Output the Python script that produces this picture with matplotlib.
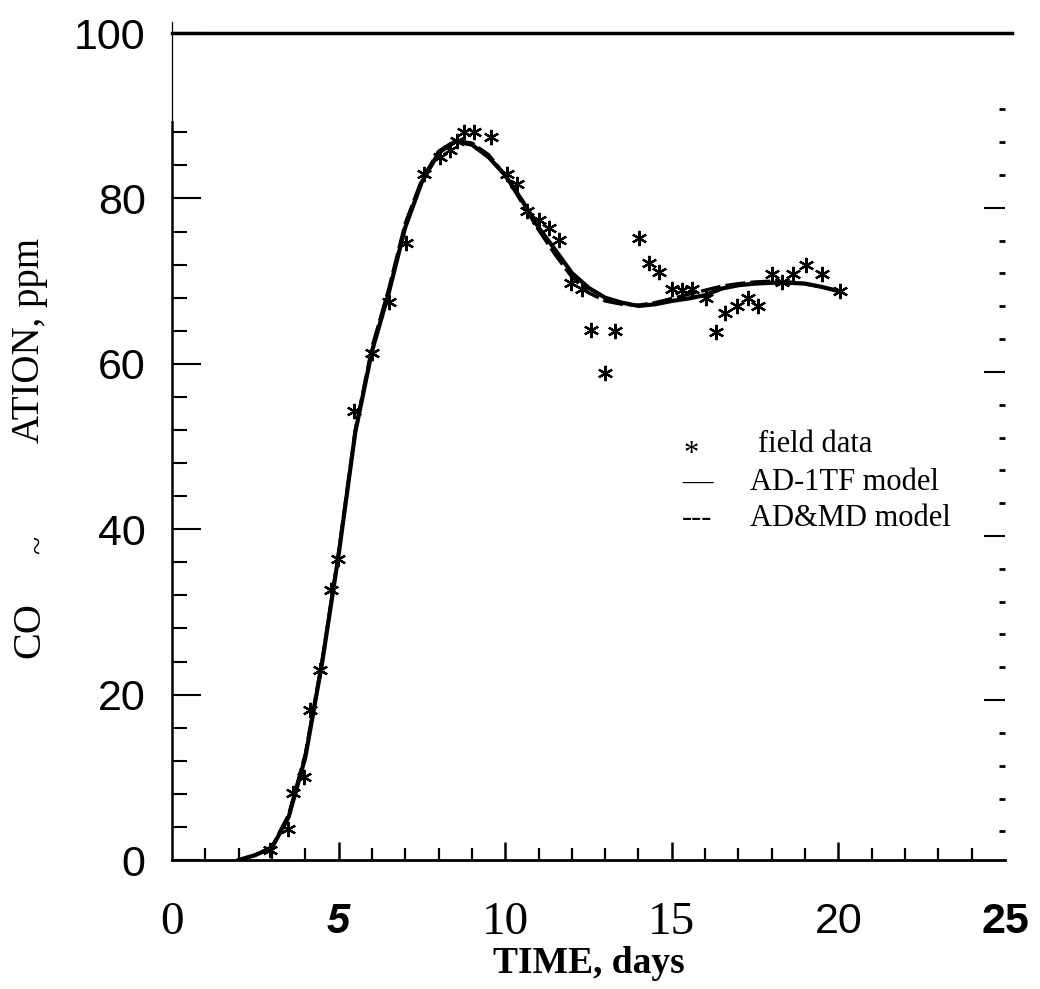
import matplotlib.pyplot as plt

# field data
days_field = [2.95, 3.49, 3.64, 3.95, 4.15, 4.45, 4.77, 4.97, 5.46, 6.01,
              6.51, 7.02, 7.55, 8.03, 8.35, 8.55, 8.77, 9.07, 9.56, 10.04,
              10.34, 10.64, 11.01, 11.31, 11.63, 11.98, 12.31, 12.58, 13.0, 13.29,
              14.02, 14.32, 14.62, 15.01, 15.31, 15.61, 16.03, 16.33, 16.61, 16.95,
              17.3, 17.6, 18.02, 18.32, 18.63, 19.02, 19.52, 20.04]
conc_field = [1.2, 3.8, 8.1, 10.1, 18.2, 23.0, 32.7, 36.4, 54.3, 61.3,
              67.5, 74.6, 82.9, 85.0, 85.9, 87.0, 88.0, 88.0, 87.4, 83.0,
              81.7, 78.5, 77.4, 76.4, 75.0, 69.8, 69.1, 64.1, 58.9, 64.0,
              75.2, 72.2, 71.1, 69.1, 68.9, 69.1, 68.0, 63.9, 66.1, 67.0,
              68.0, 67.0, 70.9, 69.9, 70.9, 71.9, 70.9, 68.8]

# model curves
days_model = [2.0, 2.5, 3.0, 3.5, 4.0, 4.5, 5.0, 5.5, 6.0, 6.5,
              7.0, 7.5, 8.0, 8.5, 9.0, 9.5, 10.0, 10.5, 11.0, 11.5,
              12.0, 12.5, 13.0, 13.5, 14.0, 14.5, 15.0, 15.5, 16.0, 16.5,
              17.0, 17.5, 18.0, 18.5, 19.0, 19.5, 20.0]
ad_1tf = [0.0, 0.6, 1.5, 5.2, 12.4, 23.7, 36.9, 51.7, 61.5, 68.5,
          76.5, 82.0, 85.5, 86.9, 86.5, 85.0, 82.8, 79.8, 76.5, 73.8,
          71.0, 69.2, 68.0, 67.4, 67.0, 67.2, 67.6, 67.9, 68.3, 69.1,
          69.5, 69.7, 69.8, 69.8, 69.7, 69.3, 68.8]
ad_md = [0.0, 0.6, 1.6, 5.5, 12.8, 24.0, 37.2, 52.0, 62.0, 69.0,
         77.0, 82.3, 85.7, 87.0, 86.7, 85.3, 82.8, 79.5, 76.2, 73.2,
         70.5, 68.6, 67.6, 67.2, 67.1, 67.4, 67.9, 68.4, 68.9, 69.4,
         69.7, 69.9, 70.0, 69.9, 69.7, 69.3, 68.8]

xtick_vals = [0, 5, 10, 15, 20, 25]
xtick_text = ['0', '5', '10', '15', '20', '25']
ytick_vals = [0, 20, 40, 60, 80, 100]
ytick_text = ['0', '20', '40', '60', '80', '100']

serif = 'Liberation Serif'
sans = 'Liberation Sans'

fig = plt.figure(figsize=(10.4, 9.89), dpi=100)
ax = fig.add_axes([0.1654, 0.1304, 0.8009, 0.8362])

ax.plot(days_model, ad_1tf, color='black', lw=3.0)
ax.plot(days_model, ad_md, color='black', lw=2.4, ls=(0, (6, 1.5)))
ax.plot(days_field, conc_field, ls='none', marker=(6, 2, 0), ms=11, mew=1.6,
        color='black')

ax.set_xlim(0, 25)
ax.set_ylim(0, 100)

ax.spines['right'].set_visible(False)
ax.spines['top'].set_linewidth(2.5)
ax.spines['top'].set_bounds(0, 25.2)
ax.spines['left'].set_linewidth(1.8)
ax.spines['left'].set_bounds(0, 89.3)
ax.spines['bottom'].set_linewidth(2)
ax.axvline(0, ymin=0.893, ymax=1.013, color='black', lw=0.9, clip_on=False)

# x ticks
ax.set_xticks(xtick_vals)
ax.set_xticklabels(xtick_text)
ax.set_xticks([d for d in range(1, 25) if d % 5 != 0], minor=True)
ax.tick_params(axis='x', which='major', direction='in', length=13, width=1.8,
               pad=30, top=False)
ax.tick_params(axis='x', which='minor', direction='in', length=9, width=1.6,
               top=False)
xfonts = [dict(family=serif, size=34), dict(family=sans, size=30, weight='bold', style='italic'),
          dict(family=serif, size=34), dict(family=serif, size=34),
          dict(family=sans, size=31), dict(family=sans, size=31, weight='bold')]
for lab, fp in zip(ax.get_xticklabels(), xfonts):
    lab.set(**fp)
xt = ax.xaxis.get_major_ticks()
xt[0].tick1line.set_visible(False)
xt[-1].tick1line.set_visible(False)

# y ticks
ax.set_yticks(ytick_vals)
ax.set_yticklabels(ytick_text)
ax.set_yticks([v for v in range(4, 89, 4) if v % 20 != 0], minor=True)
ax.tick_params(axis='y', which='major', direction='in', length=21, width=1.5,
               pad=19, labelsize=31, right=False)
ax.tick_params(axis='y', which='minor', direction='in', length=11, width=1.5,
               right=False)
for lab in ax.get_yticklabels():
    lab.set_family(sans)
yt = ax.yaxis.get_major_ticks()
yt[0].tick1line.set_visible(False)
yt[-1].tick1line.set_visible(False)

# stray ticks on the right edge (scan offset)
ax2 = ax.twinx()
ax2.set_ylim(0.5, 101.3)
for s in ax2.spines.values():
    s.set_visible(False)
ax2.set_yticks([20, 40, 60, 80])
ax2.set_yticks([v for v in range(4, 93, 4) if v % 20 != 0], minor=True)
ax2.tick_params(axis='y', which='major', direction='in', length=15, width=1.5,
                labelright=False)
ax2.tick_params(axis='y', which='minor', direction='in', length=4.5, width=2,
                labelright=False)

# axis titles
W, H = 1040, 989
fig.text(30 / W, 1 - 340 / H, 'ATION, ppm', rotation=90, family=serif,
         fontsize=28, ha='center', va='center')
fig.text(30 / W, 1 - 630 / H, 'CO', rotation=90, family=serif,
         fontsize=29, ha='center', va='center')
fig.text(40 / W, 1 - 545 / H, '~', rotation=90, family=serif,
         fontsize=24, ha='center', va='center')
fig.text(589 / W, 1 - 973 / H, 'TIME, days', family=serif, weight='bold',
         fontsize=27, ha='center', va='baseline')

# legend as in the scan
leg_fs = 22
fig.text(684 / W, 1 - 462 / H, '*', family=serif, fontsize=leg_fs, va='baseline')
fig.text(758 / W, 1 - 452 / H, 'field data', family=serif, fontsize=leg_fs, va='baseline')
fig.text(682 / W, 1 - 490 / H, '\u2014', family=serif, fontsize=leg_fs, va='baseline')
fig.text(750 / W, 1 - 490 / H, 'AD-1TF model', family=serif, fontsize=leg_fs, va='baseline')
fig.text(682 / W, 1 - 526 / H, '---', family=serif, fontsize=leg_fs, va='baseline')
fig.text(750 / W, 1 - 526 / H, 'AD&MD model', family=serif, fontsize=leg_fs, va='baseline')

fig.savefig('out.png', dpi=100)
